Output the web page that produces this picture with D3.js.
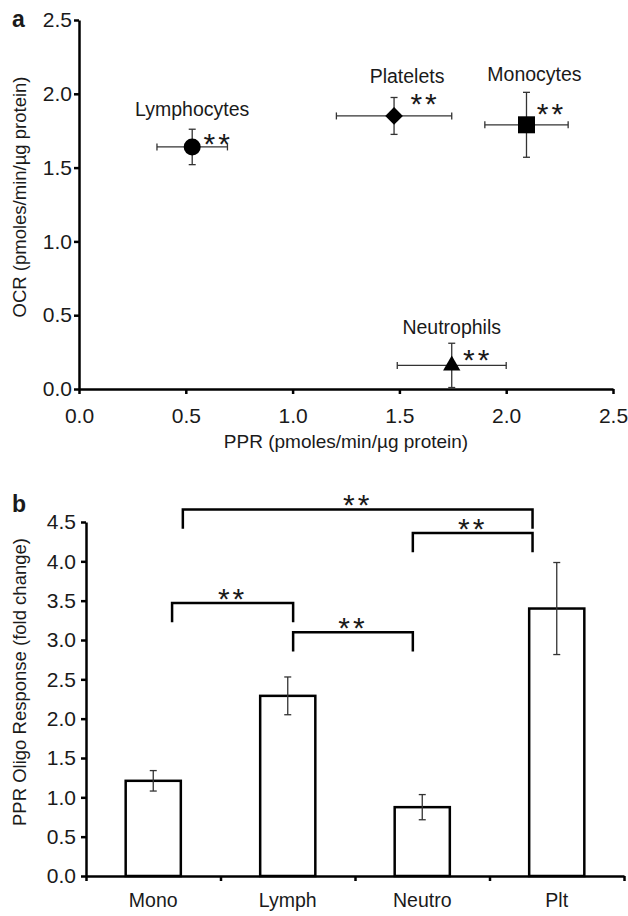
<!DOCTYPE html>
<html>
<head>
<meta charset="utf-8">
<script src="https://cdn.jsdelivr.net/npm/d3@7"></script>
<style>
  body { margin: 0; background: #fff; }
  text { font-family: "Liberation Sans", Arial, sans-serif; fill: #1a1a1a; }
</style>
</head>
<body>
<script>
// ---------- Panel a data ----------
const cellTypes = ["Lymphocytes", "Platelets", "Monocytes", "Neutrophils"];
const pprMean = [0.53, 1.475, 2.095, 1.745];
const pprErr = [0.165, 0.27, 0.195, 0.255];
const ocrMean = [1.64, 1.85, 1.79, 0.16];
const ocrErr = [0.12, 0.125, 0.22, 0.15];
const markerShapes = ["circle", "diamond", "square", "triangle"];
const axisTicksA = [0, 0.5, 1.0, 1.5, 2.0, 2.5];

// ---------- Panel b data ----------
const categories = ["Mono", "Lymph", "Neutro", "Plt"];
const oligoMean = [1.21, 2.29, 0.875, 3.40];
const oligoErr = [0.13, 0.24, 0.16, 0.585];
const axisTicksB = [0, 0.5, 1.0, 1.5, 2.0, 2.5, 3.0, 3.5, 4.0, 4.5];
// significance brackets (x in category-index units, y in fold change)
const bracketX1 = [0.72, 2.43, 0.64, 1.54];
const bracketX2 = [3.32, 3.32, 1.54, 2.43];
const bracketY = [4.66, 4.36, 3.47, 3.10];
const bracketLabel = ["**", "**", "**", "**"];

// ---------- layout ----------
const W = 628, H = 916;
const TICK_FS = "21px";
const svg = d3.select("body").append("svg").attr("width", W).attr("height", H);

function styleAxis(g) {
  g.select(".domain").attr("stroke", "#000").attr("stroke-width", 2.5);
  g.selectAll(".tick line").attr("stroke", "#000").attr("stroke-width", 2.5);
  g.selectAll(".tick text").style("font-size", TICK_FS).attr("fill", "#1a1a1a")
    .style("font-family", '"Liberation Sans", Arial, sans-serif');
}

// ================= Panel a =================
const xA = d3.scaleLinear().domain([0, 2.5]).range([79, 613]);
const yA = d3.scaleLinear().domain([0, 2.5]).range([389, 20]);

const gxA = svg.append("g").attr("transform", `translate(0,${yA(0)})`)
  .call(d3.axisBottom(xA).tickValues(axisTicksA).tickFormat(d3.format(".1f"))
        .tickSize(5).tickSizeOuter(0).tickPadding(14));
styleAxis(gxA);
const gyA = svg.append("g").attr("transform", `translate(${xA(0)},0)`)
  .call(d3.axisLeft(yA).tickValues(axisTicksA).tickFormat(d3.format(".1f"))
        .tickSize(5).tickSizeOuter(0).tickPadding(2));
styleAxis(gyA);

svg.append("text").attr("x", (xA(0) + xA(2.5)) / 2).attr("y", 448)
  .attr("text-anchor", "middle").style("font-size", "19px")
  .text("PPR (pmoles/min/µg protein)");
svg.append("text").attr("transform", `translate(26,197) rotate(-90)`)
  .attr("text-anchor", "middle").style("font-size", "18.5px")
  .text("OCR (pmoles/min/µg protein)");
svg.append("text").attr("x", 12).attr("y", 27).style("font-size", "23px")
  .style("font-weight", "bold").text("a");

const cap = 3.5;
const ptData = cellTypes.map((c, i) => ({
  name: c, x: pprMean[i], xe: pprErr[i], y: ocrMean[i], ye: ocrErr[i], shape: markerShapes[i]
}));
// label offsets (px) relative to point, layout only
const nameOffset = { Lymphocytes: [0, -31], Platelets: [13, -33], Monocytes: [8, -44], Neutrophils: [0, -31] };
const starOffset = { Lymphocytes: [26, -10], Platelets: [31, -19], Monocytes: [25, -18], Neutrophils: [26, -12] };

const pts = svg.append("g").selectAll("g").data(ptData).join("g");
pts.each(function (d) {
  const g = d3.select(this);
  const cx = xA(d.x), cy = yA(d.y);
  const errStyle = s => s.attr("stroke", "#333").attr("stroke-width", 1.3);
  // horizontal error bar
  g.append("line").attr("x1", xA(d.x - d.xe)).attr("x2", xA(d.x + d.xe)).attr("y1", cy).attr("y2", cy).call(errStyle);
  g.append("line").attr("x1", xA(d.x - d.xe)).attr("x2", xA(d.x - d.xe)).attr("y1", cy - cap).attr("y2", cy + cap).call(errStyle);
  g.append("line").attr("x1", xA(d.x + d.xe)).attr("x2", xA(d.x + d.xe)).attr("y1", cy - cap).attr("y2", cy + cap).call(errStyle);
  // vertical error bar
  const yLo = Math.max(0, d.y - d.ye);
  g.append("line").attr("x1", cx).attr("x2", cx).attr("y1", yA(d.y + d.ye)).attr("y2", yA(yLo)).call(errStyle);
  g.append("line").attr("x1", cx - cap).attr("x2", cx + cap).attr("y1", yA(d.y + d.ye)).attr("y2", yA(d.y + d.ye)).call(errStyle);
  if (d.y - d.ye > 0)
    g.append("line").attr("x1", cx - cap).attr("x2", cx + cap).attr("y1", yA(yLo)).attr("y2", yA(yLo)).call(errStyle);
  // marker
  let sym;
  if (d.shape === "circle") sym = d3.symbol(d3.symbolCircle, Math.PI * 8.5 * 8.5);
  else if (d.shape === "square") sym = d3.symbol(d3.symbolSquare, 17 * 17);
  else if (d.shape === "diamond") sym = d3.symbol(d3.symbolSquare, 12.5 * 12.5);
  else sym = d3.symbol(d3.symbolTriangle, 130);
  g.append("path").attr("d", sym())
    .attr("transform", `translate(${cx},${cy})` + (d.shape === "diamond" ? " rotate(45)" : ""))
    .attr("fill", "#000");
  const no = nameOffset[d.name], so = starOffset[d.name];
  g.append("text").attr("x", cx + no[0]).attr("y", cy + no[1]).attr("text-anchor", "middle")
    .style("font-size", "19.5px").text(d.name);
  g.append("text").attr("x", cx + so[0]).attr("y", cy + so[1] + 17).attr("text-anchor", "middle")
    .style("font-size", "30px").style("letter-spacing", "3px").text("**");
});

// ================= Panel b =================
const xB = d3.scaleBand().domain(categories).range([86, 624]).paddingInner(0.59).paddingOuter(0.295);
const idx = d3.scaleLinear().domain([0, categories.length]).range([86, 624]);
const yB = d3.scaleLinear().domain([0, 4.5]).range([876, 522]);

const gxB = svg.append("g").attr("transform", `translate(0,${yB(0)})`)
  .call(d3.axisBottom(idx).tickValues(d3.range(categories.length + 1)).tickFormat("")
        .tickSize(5).tickSizeOuter(0));
styleAxis(gxB);
const gyB = svg.append("g").attr("transform", `translate(${idx(0)},0)`)
  .call(d3.axisLeft(yB).tickValues(axisTicksB).tickFormat(d3.format(".1f"))
        .tickSize(5).tickSizeOuter(0).tickPadding(5));
styleAxis(gyB);

svg.append("g").selectAll("text").data(categories).join("text")
  .attr("x", d => xB(d) + xB.bandwidth() / 2).attr("y", 907)
  .attr("text-anchor", "middle").style("font-size", "19.5px").text(d => d);

svg.append("text").attr("transform", `translate(26,682) rotate(-90)`)
  .attr("text-anchor", "middle").style("font-size", "18.5px")
  .text("PPR Oligo Response (fold change)");
svg.append("text").attr("x", 12).attr("y", 512).style("font-size", "23px")
  .style("font-weight", "bold").text("b");

const barData = categories.map((c, i) => ({ c, v: oligoMean[i], e: oligoErr[i] }));
svg.append("g").selectAll("rect").data(barData).join("rect")
  .attr("x", d => xB(d.c)).attr("width", xB.bandwidth())
  .attr("y", d => yB(d.v)).attr("height", d => yB(0) - yB(d.v))
  .attr("fill", "#fff").attr("stroke", "#000").attr("stroke-width", 2.5);

const eb = svg.append("g").selectAll("g").data(barData).join("g");
eb.each(function (d) {
  const g = d3.select(this);
  const cx = xB(d.c) + xB.bandwidth() / 2;
  const s = sel => sel.attr("stroke", "#333").attr("stroke-width", 1.3);
  g.append("line").attr("x1", cx).attr("x2", cx).attr("y1", yB(d.v + d.e)).attr("y2", yB(d.v - d.e)).call(s);
  g.append("line").attr("x1", cx - cap).attr("x2", cx + cap).attr("y1", yB(d.v + d.e)).attr("y2", yB(d.v + d.e)).call(s);
  g.append("line").attr("x1", cx - cap).attr("x2", cx + cap).attr("y1", yB(d.v - d.e)).attr("y2", yB(d.v - d.e)).call(s);
});

const drop = 0.245;
const brData = bracketX1.map((x1, i) => ({ x1, x2: bracketX2[i], y: bracketY[i], t: bracketLabel[i] }));
const br = svg.append("g").selectAll("g").data(brData).join("g");
br.append("path")
  .attr("d", d => `M${idx(d.x1)},${yB(d.y - drop)}V${yB(d.y)}H${idx(d.x2)}V${yB(d.y - drop)}`)
  .attr("fill", "none").attr("stroke", "#000").attr("stroke-width", 2.5);
br.append("text").attr("x", d => (idx(d.x1) + idx(d.x2)) / 2).attr("y", d => yB(d.y) - 11 + 17)
  .attr("text-anchor", "middle").style("font-size", "30px").style("letter-spacing", "3px")
  .text(d => d.t);
</script>
</body>
</html>
